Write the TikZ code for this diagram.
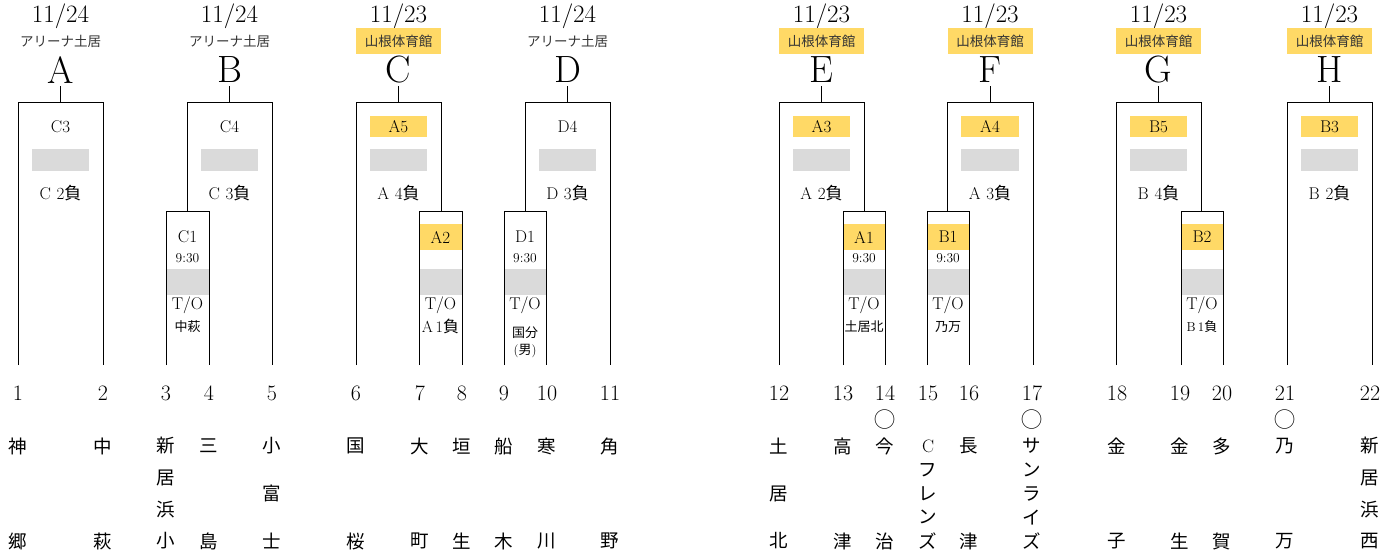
\documentclass[tikz,border=0pt]{standalone}
\usepackage{fontspec}
\newfontfamily\jpf{Noto Sans CJK JP}
\definecolor{ylw}{RGB}{255,217,102}
\definecolor{gry}{RGB}{218,218,218}
\tikzset{
  br/.style={draw=black, line width=1pt},
  date/.style={inner sep=0pt, font=\fontsize{25}{25}\selectfont},
  letter/.style={inner sep=0pt, font=\fontsize{38}{38}\selectfont},
  venue/.style={inner sep=0pt, text=black!80, font=\jpf\fontsize{13.5}{13.5}\selectfont},
  venueY/.style={venue, fill=ylw, minimum width=85pt, minimum height=26pt},
  ttl/.style={inner sep=0pt, font=\fontsize{17}{17}\selectfont},
  tm/.style={inner sep=0pt, font=\fontsize{13.5}{13.5}\selectfont},
  sub/.style={inner sep=0pt, align=center, font=\jpf\fontsize{13}{17}\selectfont},
  num/.style={inner sep=0pt, font=\fontsize{22}{22}\selectfont},
  nm/.style={inner sep=0pt, font=\jpf\fontsize{18.5}{18.5}\selectfont},
}
\newcommand\bkTop[5]{%
  \node[date] (d#1) at (#2,16) {#3};
  \ifnum#4=1 \node[venueY] (v#1) at (#2,41) {山根体育館};
  \else \node[venue] (v#1) at (#2,41) {アリーナ土居}; \fi
  \node[letter] (L#1) at (#2,70) {#5};
}
\newcommand\bkOuter[8]{%
  \pgfmathsetmacro\cx{(#2+#3)/2}%
  \ifnum#5=1 \fill[ylw] ({#2+14},116) rectangle ({#3-14},137); \fi
  \fill[gry] ({#2+14},149) rectangle ({#3-14},171);
  \coordinate (s#1) at (\cx,86);
  \coordinate (b#1) at (\cx,103);
  \draw[br] (#2,#7) -- (#2,103) -- (#3,103) -- (#3,#8);
  \draw[br] (b#1) -- (s#1);
  \node[ttl] (t#1) at (\cx,126.5) {#4};
  \node[ttl] (l#1) at (\cx,193) {#6};
}
\newcommand\bkInner[8]{%
  \pgfmathsetmacro\ix{(#2+#3)/2}%
  \ifnum#5=1 \fill[ylw] (#2,224) rectangle (#3,250); \fi
  \fill[gry] (#2,269) rectangle (#3,295);
  \draw[br] (#2,365) -- (#2,212) -- (#3,212) -- (#3,365);
  \node[ttl] (t#1) at (\ix,237) {#4};
  \ifnum#6=1 \node[tm] (h#1) at (\ix,258) {9:30}; \fi
  \node[ttl] (o#1) at (\ix,305) {T/O};
  \node[sub] (u#1) at (\ix,#8) {#7};
}
\newcommand\bkNames[4]{%
  \foreach \ch [count=\k from 0] in {#4} {%
    \node[nm] (n#1-\k) at (#2,{446+\k*95/(#3-1)}) {\ch};}%
}
\newcommand\lose[2]{{\rmfamily #1\,\,#2}{\jpf 負}}
\begin{document}
\begin{tikzpicture}[x=1pt,y=-1pt]
\useasboundingbox (0,0) rectangle (1389,553);
% headers
\bkTop{A}{60.5}{11/24}{0}{A}
\bkTop{B}{229.5}{11/24}{0}{B}
\bkTop{C}{398.5}{11/23}{1}{C}
\bkTop{D}{567.5}{11/24}{0}{D}
\bkTop{E}{821.5}{11/23}{1}{E}
\bkTop{F}{990}{11/23}{1}{F}
\bkTop{G}{1158.5}{11/23}{1}{G}
\bkTop{H}{1329.5}{11/23}{1}{H}
% outer boxes
\bkOuter{A}{18}{103}{C3}{0}{\lose{C}{2}}{365}{365}
\bkOuter{B}{187}{272}{C4}{0}{\lose{C}{3}}{212}{365}
\bkOuter{C}{356}{441}{A5}{1}{\lose{A}{4}}{365}{212}
\bkOuter{D}{525}{610}{D4}{0}{\lose{D}{3}}{212}{365}
\bkOuter{E}{779}{864}{A3}{1}{\lose{A}{2}}{365}{212}
\bkOuter{F}{947}{1033}{A4}{1}{\lose{A}{3}}{212}{365}
\bkOuter{G}{1116}{1201}{B5}{1}{\lose{B}{4}}{365}{212}
\bkOuter{H}{1287}{1372}{B3}{1}{\lose{B}{2}}{365}{365}
% inner boxes
\bkInner{C1}{166}{209}{C1}{0}{1}{中萩}{327}
\bkInner{A2}{419}{462}{A2}{1}{0}{\fontsize{16}{16}\selectfont{\rmfamily A\,1}負}{326}
\bkInner{D1}{504}{546}{D1}{0}{1}{国分\\{\rmfamily(}男{\rmfamily)}}{342.5}
\bkInner{A1}{843}{885}{A1}{1}{1}{土居北}{327}
\bkInner{B1}{927}{969}{B1}{1}{1}{乃万}{327}
\bkInner{B2}{1181}{1223}{B2}{1}{0}{{\rmfamily B\,1}負}{327}
% numbers
\foreach \x/\n in {18/1,103/2,166/3,209/4,272/5,356/6,420/7,462/8,504/9,547/10,610/11,
  779/12,843/13,885/14,928/15,969/16,1032/17,1117/18,1180/19,1222/20,1285/21,1370/22}
  \node[num] (num\n) at (\x,393) {\n};
% circles
\node[nm, font=\jpf\fontsize{21}{21}\selectfont] (o14) at (885,420) {◯};
\node[nm, font=\jpf\fontsize{21}{21}\selectfont] (o17) at (1032,420) {◯};
\node[nm, font=\jpf\fontsize{21}{21}\selectfont] (o21) at (1285,420) {◯};
% names
\bkNames{1}{18}{2}{神,郷}
\bkNames{2}{103}{2}{中,萩}
\bkNames{3}{166}{4}{新,居,浜,小}
\bkNames{4}{209}{2}{三,島}
\bkNames{5}{272}{3}{小,富,士}
\bkNames{6}{356}{2}{国,桜}
\bkNames{7}{420}{2}{大,町}
\bkNames{8}{462}{2}{垣,生}
\bkNames{9}{504}{2}{船,木}
\bkNames{10}{547}{2}{寒,川}
\bkNames{11}{610}{2}{角,野}
\bkNames{12}{779}{3}{土,居,北}
\bkNames{13}{843}{2}{高,津}
\bkNames{14}{885}{2}{今,治}
\bkNames{15}{928}{5}{{\rmfamily\fontsize{18}{18}\selectfont C},フ,レ,ン,ズ}
\bkNames{16}{969}{2}{長,津}
\bkNames{17}{1032}{5}{サ,ン,ラ,イ,ズ}
\bkNames{18}{1117}{2}{金,子}
\bkNames{19}{1180}{2}{金,生}
\bkNames{20}{1222}{2}{多,賀}
\bkNames{21}{1285}{2}{乃,万}
\bkNames{22}{1370}{4}{新,居,浜,西}
\end{tikzpicture}
\end{document}
